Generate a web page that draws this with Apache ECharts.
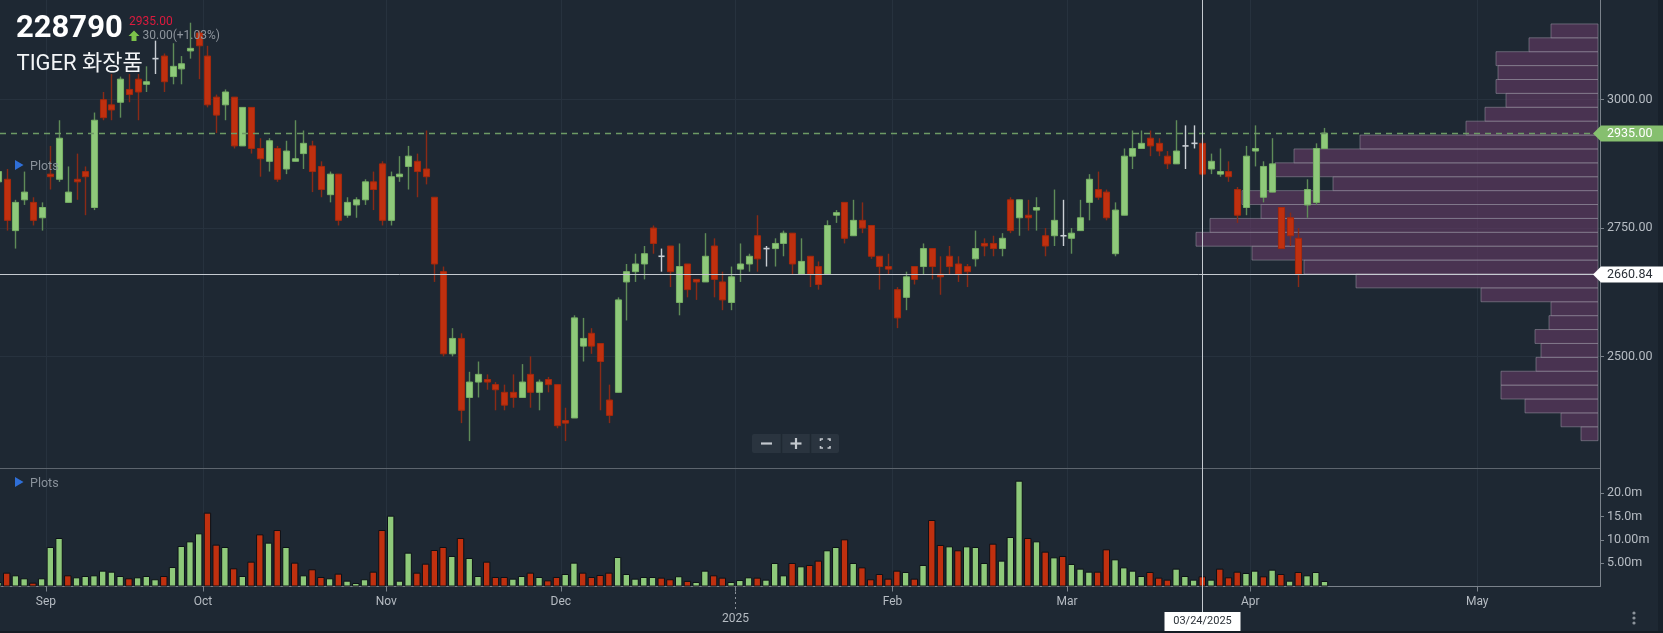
<!DOCTYPE html>
<html>
<head>
<meta charset="utf-8">
<title>228790 TIGER 화장품</title>
<script src="https://cdn.jsdelivr.net/npm/echarts@6/dist/echarts.min.js"></script>
<style>
  html, body { margin: 0; padding: 0; background: #1e2833; }
  #chart { width: 1663px; height: 633px; }
</style>
</head>
<body>
<div id="chart"></div>
<script>
// daily bars, index 0 is the half-cut candle at the left edge
var opens = [2840,2845,2745,2805,2800,2770,2855,2845,2800,2845,2860,2790,3000,2990,2995,3020,3040,3030,3080,3085,
  3045,3060,3095,3130,3085,3005,2990,3005,2910,2985,2905,2880,2905,2865,2880,2895,2910,2870,2815,2855,
  2775,2795,2805,2840,2875,2765,2850,2870,2880,2865,2810,2665,2505,2535,2420,2450,2455,2445,2430,2430,
  2420,2465,2430,2455,2445,2375,2380,2520,2545,2525,2415,2430,2645,2665,2680,2750,2695,2715,2605,2680,
  2650,2645,2715,2645,2605,2670,2680,2735,2710,2710,2720,2740,2660,2695,2675,2660,2775,2800,2735,2765,
  2755,2695,2675,2630,2615,2675,2675,2710,2660,2695,2680,2675,2690,2720,2720,2710,2805,2770,2775,2785,
  2735,2735,2735,2730,2745,2800,2825,2820,2700,2775,2890,2905,2925,2915,2890,2875,2910,2915,2915,2865,
  2855,2860,2825,2790,2900,2810,2820,2790,2770,2730,2795,2800,2905];
var highs = [2870,2865,2805,2860,2810,2800,2910,2960,2870,2895,2870,2975,3015,3050,3045,3050,3050,3065,3115,3090,
  3110,3085,3150,3135,3105,3010,3020,3005,2985,2985,2925,2925,2910,2920,2960,2940,2920,2880,2860,2855,
  2810,2810,2845,2860,2880,2860,2890,2910,2895,2940,2810,2675,2555,2545,2470,2490,2465,2450,2445,2465,
  2485,2500,2455,2460,2445,2400,2580,2575,2555,2525,2445,2615,2680,2700,2715,2755,2710,2715,2720,2680,
  2650,2740,2730,2665,2675,2720,2700,2775,2715,2730,2745,2740,2730,2695,2685,2765,2785,2800,2805,2800,
  2755,2695,2700,2635,2665,2675,2720,2710,2695,2715,2695,2680,2745,2730,2735,2740,2810,2805,2805,2810,
  2750,2825,2805,2750,2805,2855,2860,2825,2800,2905,2940,2940,2940,2925,2900,2960,2950,2950,2925,2895,
  2905,2880,2830,2910,2950,2880,2925,2790,2780,2750,2845,2915,2945];
var lows = [2830,2745,2710,2795,2755,2745,2825,2840,2800,2805,2775,2785,2960,2960,2965,2995,2960,3015,3050,3015,
  3030,3030,3080,3040,2985,2935,2960,2905,2910,2895,2850,2860,2840,2855,2880,2865,2820,2810,2800,2755,
  2770,2770,2795,2785,2755,2755,2840,2825,2810,2835,2645,2500,2500,2370,2335,2420,2435,2395,2395,2400,
  2420,2400,2395,2430,2360,2335,2380,2490,2505,2395,2370,2430,2570,2645,2650,2700,2665,2635,2580,2615,
  2610,2645,2615,2590,2590,2645,2665,2665,2675,2675,2695,2660,2660,2635,2630,2660,2760,2720,2735,2740,
  2690,2630,2660,2555,2590,2640,2660,2650,2620,2660,2645,2635,2675,2695,2695,2695,2740,2735,2745,2745,
  2695,2715,2715,2700,2745,2765,2805,2765,2695,2775,2865,2905,2890,2890,2865,2875,2865,2905,2850,2855,
  2850,2840,2760,2775,2870,2800,2820,2710,2715,2635,2770,2795,2905];
var closes = [2860,2765,2800,2820,2765,2790,2850,2925,2820,2840,2850,2960,2965,2980,3040,3010,3015,3035,3080,3035,
  3065,3070,3100,3105,2990,2970,3015,2910,2985,2905,2885,2920,2845,2900,2885,2915,2860,2825,2855,2765,
  2800,2805,2840,2825,2765,2850,2855,2890,2860,2850,2680,2505,2535,2395,2450,2465,2450,2435,2405,2420,
  2450,2430,2450,2445,2365,2370,2575,2535,2520,2490,2385,2610,2665,2680,2700,2720,2695,2665,2675,2630,
  2645,2695,2650,2610,2655,2680,2695,2690,2710,2720,2740,2680,2685,2660,2640,2755,2780,2730,2765,2750,
  2695,2675,2670,2575,2655,2650,2710,2675,2655,2675,2660,2665,2710,2715,2710,2730,2745,2805,2770,2790,
  2715,2765,2735,2740,2770,2845,2810,2770,2785,2890,2905,2915,2910,2900,2875,2900,2910,2915,2855,2880,
  2860,2850,2775,2890,2905,2870,2875,2710,2735,2660,2825,2905,2935];
// millions of shares
var volumes = [0.97,2.97,2.40,1.76,0.82,1.76,8.48,10.41,2.40,1.97,2.25,2.40,3.40,3.18,2.25,1.76,1.97,2.25,1.55,2.25,
  4.18,8.69,9.69,11.41,15.85,8.98,8.48,3.90,2.25,5.33,11.19,9.41,12.12,8.48,5.12,2.40,3.69,2.04,1.76,2.76,
  1.25,0.75,1.55,3.18,12.12,15.20,1.25,7.26,2.97,4.90,7.83,8.48,6.55,10.41,6.12,2.25,5.33,2.04,2.04,1.68,
  2.25,2.97,2.04,1.32,2.04,2.68,5.12,2.97,2.04,2.47,2.97,6.33,2.68,1.68,2.04,2.04,1.90,1.55,2.20,1.20,
  0.97,3.40,2.40,1.90,0.97,1.39,1.97,1.90,1.47,5.04,2.40,5.04,4.33,4.62,5.55,7.77,8.48,10.12,5.04,4.11,
  1.55,2.68,1.68,3.40,3.11,1.68,4.62,14.27,8.91,8.62,7.77,8.62,8.48,5.04,9.19,5.55,10.62,22.71,10.41,9.69,
  7.48,6.26,6.55,4.83,3.83,3.18,3.18,7.98,5.83,4.11,3.40,2.25,3.11,1.90,1.47,3.83,2.25,1.47,2.18,1.47,
  3.83,1.97,3.18,2.90,3.40,2.18,3.61,2.68,1.25,3.11,2.40,3.11,1.18];

var monthTicks = [5.5, 23.5, 44.5, 64.5, 84.5, 102.5, 122.5, 143.5, 169.5];
var monthNames = ['Sep', 'Oct', 'Nov', 'Dec', '2025', 'Feb', 'Mar', 'Apr', 'May'];
var priceTicks = [2500, 2750, 3000];
var volTicks = [5, 10, 15, 20];
var volTickNames = ['5.00m', '10.00m', '15.0m', '20.0m'];

// volume by price, lowest bin first
var profileLow = 2335.8;
var profileStep = 27.06;
var profileVol = [17, 37, 73, 97, 97, 62, 57, 63, 49, 47, 117, 242, 294, 346, 402,
  388, 337, 356, 265, 323, 304, 238, 132, 113, 92, 102, 100, 102, 69, 47];

var code = '228790', stockName = 'TIGER 화장품';
var lastPrice = 2935, change = 30, changePct = 1.03;
var cursorIndex = 138, cursorPrice = 2660.84, cursorDate = '03/24/2025';

var UP = '#8ec97a', UP_EDGE = '#79b266', UP_WICK = '#5f8b58';
var DOWN = '#c0300f', DOWN_EDGE = '#a5290d', DOWN_WICK = '#8a2a16';
var DOJI = '#c9ced4';
var GRID = '#27323e', AXIS = '#7a828b', TEXT = '#b6bcc3';
var FONT = 'Roboto, "Noto Sans CJK KR", sans-serif';
var P_MIN = 2282.6, P_MAX = 3194.2, X_MIN = 0.232, X_MAX = 183.57, VOL_MAX = 25.43;

var candleData = opens.map(function (o, i) { return [i, o, closes[i], lows[i], highs[i]]; });
var volData = volumes.map(function (v, i) { return [i, v]; });
var profileData = profileVol.map(function (v, k) {
    return [profileLow + k * profileStep, profileLow + (k + 1) * profileStep, v];
});

function renderCandle(params, api) {
    var i = api.value(0), o = api.value(1), c = api.value(2), l = api.value(3), h = api.value(4);
    var pH = api.coord([i, h]), pL = api.coord([i, l]);
    var pO = api.coord([i, o]), pC = api.coord([i, c]);
    var w = api.size([1, 0])[0] * 0.7;
    var x = Math.round(pH[0]) + 0.5;
    var fill = DOJI, edge = DOJI, wick = DOJI;
    if (c > o) { fill = UP; edge = UP_EDGE; wick = UP_WICK; }
    if (c < o) { fill = DOWN; edge = DOWN_EDGE; wick = DOWN_WICK; }
    var kids = [{type: 'line', shape: {x1: x, y1: pH[1], x2: x, y2: pL[1]}, style: {stroke: wick, lineWidth: 1.4}}];
    if (c === o) {
        kids.push({type: 'line', shape: {x1: x - w / 2, y1: pO[1], x2: x + w / 2, y2: pO[1]}, style: {stroke: DOJI, lineWidth: 1.6}});
    } else {
        var top = Math.min(pO[1], pC[1]);
        kids.push({type: 'rect', shape: {x: x - w / 2, y: top, width: w, height: Math.max(Math.abs(pO[1] - pC[1]), 1.5)},
            style: {fill: fill, stroke: edge, lineWidth: 1}});
    }
    return {type: 'group', children: kids};
}

function renderProfile(params, api) {
    var a = api.coord([api.value(2), api.value(1)]);
    var b = api.coord([0, api.value(0)]);
    return {type: 'rect', shape: {x: a[0], y: a[1], width: b[0] - a[0], height: b[1] - a[1]},
        style: {fill: 'rgba(110,60,105,0.55)', stroke: 'rgba(150,148,160,0.55)', lineWidth: 1}};
}

var option = {
    backgroundColor: '#1e2833',
    animation: false,
    grid: [
        {left: 0, right: 63, top: 0, height: 468},
        {left: 0, right: 63, top: 468, height: 118.5},
        {left: 0, right: 65, top: 0, height: 468}
    ],
    xAxis: [
        {gridIndex: 0, type: 'value', min: X_MIN, max: X_MAX,
            axisLine: {show: false}, axisTick: {show: false, customValues: monthTicks},
            axisLabel: {show: false, customValues: monthTicks},
            splitLine: {show: true, lineStyle: {color: GRID}}},
        {gridIndex: 1, type: 'value', min: X_MIN, max: X_MAX,
            axisLine: {show: true, lineStyle: {color: AXIS}},
            axisTick: {show: true, length: 5, customValues: monthTicks, lineStyle: {color: AXIS}},
            axisLabel: {customValues: monthTicks, color: TEXT, fontSize: 12, fontFamily: FONT, margin: 7, lineHeight: 17,
                formatter: function (v) {
                    var k = monthTicks.indexOf(v);
                    var s = k < 0 ? '' : monthNames[k];
                    return s === '2025' ? '\n2025' : s;
                }},
            splitLine: {show: true, lineStyle: {color: GRID}}},
        {gridIndex: 2, type: 'value', inverse: true, min: 0, max: 1598, show: false}
    ],
    yAxis: [
        {gridIndex: 0, type: 'value', position: 'right', min: P_MIN, max: P_MAX,
            axisLine: {show: true, lineStyle: {color: AXIS}},
            axisTick: {show: true, length: 4, customValues: priceTicks, lineStyle: {color: AXIS}},
            axisLabel: {customValues: priceTicks, color: TEXT, fontSize: 12.5, fontFamily: FONT, margin: 7,
                formatter: function (v) { return v.toFixed(2); }},
            splitLine: {show: true, lineStyle: {color: GRID}}},
        {gridIndex: 1, type: 'value', position: 'right', min: 0, max: VOL_MAX,
            axisLine: {show: true, lineStyle: {color: AXIS}},
            axisTick: {show: true, length: 4, customValues: volTicks, lineStyle: {color: AXIS}},
            axisLabel: {customValues: volTicks, color: TEXT, fontSize: 12.5, fontFamily: FONT, margin: 7,
                formatter: function (v) { return volTickNames[volTicks.indexOf(v)]; }},
            splitLine: {show: false}},
        {gridIndex: 2, type: 'value', min: P_MIN, max: P_MAX, show: false}
    ],
    series: [
        {name: 'profile', type: 'custom', xAxisIndex: 2, yAxisIndex: 2, z: 1,
            renderItem: renderProfile, encode: {x: 2, y: [0, 1]}, data: profileData},
        {name: 'price', type: 'custom', xAxisIndex: 0, yAxisIndex: 0, z: 3, clip: true,
            renderItem: renderCandle, encode: {x: 0, y: [1, 2, 3, 4]}, data: candleData},
        {name: 'volume', type: 'bar', xAxisIndex: 1, yAxisIndex: 1, z: 2, barWidth: 7.4,
            data: volData,
            itemStyle: {borderColor: '#0c1117', borderWidth: 1,
                color: function (p) {
                    var i = p.dataIndex;
                    return (i === 0 || closes[i] >= closes[i - 1]) ? UP : DOWN;
                }}}
    ]
};

var chart = echarts.init(document.getElementById('chart'));
chart.setOption(option);

// overlays: cursor, last price, header, buttons
var cx = Math.round(chart.convertToPixel({xAxisIndex: 0}, cursorIndex)) + 0.5;
var yLast = Math.round(chart.convertToPixel({yAxisIndex: 0}, lastPrice)) + 0.5;
var yCur = Math.round(chart.convertToPixel({yAxisIndex: 0}, cursorPrice)) + 0.5;
var yearX = Math.round(chart.convertToPixel({xAxisIndex: 1}, monthTicks[4])) + 0.5;

function priceTag(y, bg, fg, txt) {
    return [
        {type: 'polygon', z: 60, shape: {points: [[1593, y], [1601, y - 8], [1663, y - 8], [1663, y + 8], [1601, y + 8]]},
            style: {fill: bg}},
        {type: 'text', z: 61, x: 1607, y: y, style: {text: txt, fill: fg, fontSize: 12.5, fontFamily: FONT, verticalAlign: 'middle'}}
    ];
}

var g = [
    {type: 'rect', z: 0, shape: {x: 1658, y: 0, width: 5, height: 633}, style: {fill: '#18212b'}},
    {type: 'rect', z: 0, shape: {x: 0, y: 631, width: 1663, height: 2}, style: {fill: '#151c24'}},
    {type: 'line', z: 40, shape: {x1: 0, y1: 468.5, x2: 1600, y2: 468.5}, style: {stroke: '#5d656e', lineWidth: 1}},
    {type: 'line', z: 45, shape: {x1: 0, y1: yLast, x2: 1598, y2: yLast}, style: {stroke: '#6d9a65', lineWidth: 1.6, lineDash: [6, 5]}},
    {type: 'line', z: 46, shape: {x1: 0, y1: yCur, x2: 1598, y2: yCur}, style: {stroke: '#c5cad0', lineWidth: 1}},
    {type: 'line', z: 46, shape: {x1: cx, y1: 0, x2: cx, y2: 612}, style: {stroke: '#c5cad0', lineWidth: 1}},
    {type: 'line', z: 40, shape: {x1: yearX, y1: 592, x2: yearX, y2: 609}, style: {stroke: '#8a9199', lineWidth: 1, lineDash: [2, 3]}},
    {type: 'rect', z: 60, shape: {x: cx - 38, y: 612, width: 76, height: 19}, style: {fill: '#ffffff'}},
    {type: 'text', z: 61, x: cx, y: 621.5, style: {text: cursorDate, fill: '#2b3138', fontSize: 11, fontFamily: FONT, align: 'center', verticalAlign: 'middle'}},
    // header
    {type: 'text', z: 70, x: 16, y: 29.5, style: {text: code, fill: '#ffffff', fontSize: 31, fontWeight: 'bold', fontFamily: FONT, verticalAlign: 'middle'}},
    {type: 'text', z: 70, x: 129, y: 21.5, style: {text: lastPrice.toFixed(2), fill: '#dc1a3e', fontSize: 12, fontFamily: FONT, verticalAlign: 'middle'}},
    {type: 'polygon', z: 70, shape: {points: [[134, 30.5], [139.5, 36], [136.5, 36], [136.5, 41], [131.5, 41], [131.5, 36], [128.5, 36]]}, style: {fill: '#7cc24a'}},
    {type: 'text', z: 70, x: 142.5, y: 36, style: {text: change.toFixed(2) + '(+' + changePct.toFixed(2) + '%)', fill: '#8e959d', fontSize: 12, fontFamily: FONT, verticalAlign: 'middle'}},
    {type: 'text', z: 70, x: 16.5, y: 64, style: {text: stockName, fill: '#f2f4f6', fontSize: 22, fontFamily: FONT, verticalAlign: 'middle'}},
    // plots tags
    {type: 'polygon', z: 70, shape: {points: [[15, 160], [23.5, 165], [15, 170]]}, style: {fill: '#2f6fd8'}},
    {type: 'text', z: 70, x: 30, y: 167, style: {text: 'Plots', fill: '#8a929b', fontSize: 12.5, fontFamily: FONT, verticalAlign: 'middle'}},
    {type: 'polygon', z: 70, shape: {points: [[15, 477], [23.5, 482], [15, 487]]}, style: {fill: '#2f6fd8'}},
    {type: 'text', z: 70, x: 30, y: 484, style: {text: 'Plots', fill: '#8a929b', fontSize: 12.5, fontFamily: FONT, verticalAlign: 'middle'}},
    // zoom buttons
    {type: 'rect', z: 70, shape: {x: 752, y: 434, width: 87, height: 19, r: 2}, style: {fill: '#2a343f'}},
    {type: 'line', z: 71, shape: {x1: 781.5, y1: 434, x2: 781.5, y2: 453}, style: {stroke: '#1f2832', lineWidth: 1.5}},
    {type: 'line', z: 71, shape: {x1: 810.5, y1: 434, x2: 810.5, y2: 453}, style: {stroke: '#1f2832', lineWidth: 1.5}},
    {type: 'line', z: 72, shape: {x1: 761, y1: 443.5, x2: 772, y2: 443.5}, style: {stroke: '#c3c8ce', lineWidth: 2.2}},
    {type: 'line', z: 72, shape: {x1: 790.5, y1: 443.5, x2: 801.5, y2: 443.5}, style: {stroke: '#c3c8ce', lineWidth: 2.2}},
    {type: 'line', z: 72, shape: {x1: 796, y1: 438, x2: 796, y2: 449}, style: {stroke: '#c3c8ce', lineWidth: 2.2}},
    {type: 'polyline', z: 72, shape: {points: [[820.5, 441], [820.5, 439], [823, 439]]}, style: {stroke: '#c3c8ce', lineWidth: 1.6, fill: null}},
    {type: 'polyline', z: 72, shape: {points: [[827.5, 439], [830, 439], [830, 441]]}, style: {stroke: '#c3c8ce', lineWidth: 1.6, fill: null}},
    {type: 'polyline', z: 72, shape: {points: [[820.5, 446], [820.5, 448], [823, 448]]}, style: {stroke: '#c3c8ce', lineWidth: 1.6, fill: null}},
    {type: 'polyline', z: 72, shape: {points: [[827.5, 448], [830, 448], [830, 446]]}, style: {stroke: '#c3c8ce', lineWidth: 1.6, fill: null}},
    // menu dots
    {type: 'circle', z: 70, shape: {cx: 1634, cy: 613, r: 1.6}, style: {fill: '#8c939b'}},
    {type: 'circle', z: 70, shape: {cx: 1634, cy: 618, r: 1.6}, style: {fill: '#8c939b'}},
    {type: 'circle', z: 70, shape: {cx: 1634, cy: 623, r: 1.6}, style: {fill: '#8c939b'}}
];
g = g.concat(priceTag(yLast, '#86bf6f', '#ffffff', lastPrice.toFixed(2)));
g = g.concat(priceTag(yCur, '#ffffff', '#2b3138', cursorPrice.toFixed(2)));
chart.setOption({graphic: g});
</script>
</body>
</html>
